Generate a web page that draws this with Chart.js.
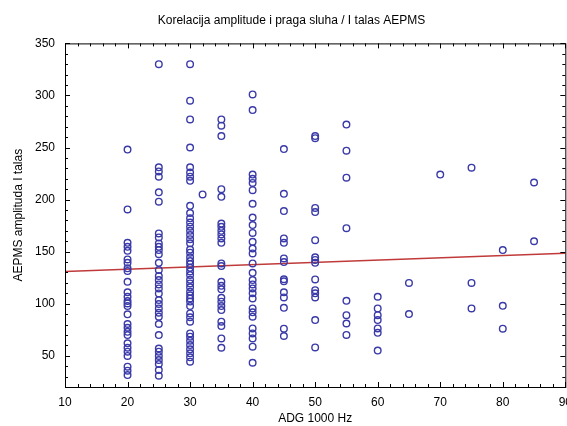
<!DOCTYPE html>
<html>
<head>
<meta charset="utf-8">
<script src="https://cdn.jsdelivr.net/npm/chart.js@4"></script>
<style>
  html, body { margin: 0; padding: 0; background: #fff; overflow: hidden; }
  #wrap { width: 572px; height: 426px; }
</style>
</head>
<body>
<div id="wrap"><canvas id="korelacija" width="572" height="426"></canvas></div>
<script>
// amplitude per ADG column
const amp20 = [248, 190.5, 158.5, 154.6, 150.8, 142.5, 139.3, 134, 131.3, 121, 110.9, 106.7, 102.5, 100.3, 97.7, 89.8, 80.5, 76.9, 73, 69.9, 61.9, 57.7, 53.9, 49.8, 39.5, 35.7, 31.5];
const amp25 = [330, 231, 227, 222, 207, 198, 167.5, 163.7, 157.9, 154.6, 151.5, 147.6, 139.3, 132.3, 126.5, 122.7, 118.5, 114.7, 109.9, 103.5, 99.7, 95.5, 91.3, 87.5, 80.5, 69.9, 57, 53.9, 49.8, 45.9, 42, 36.3, 30.8];
const amp30 = [330, 295, 277, 250, 231, 226, 222, 218, 194, 187, 182, 178, 174, 170, 166, 162, 158, 152, 149, 144.5, 141, 138, 134.5, 131, 127.5, 123, 119.5, 115.7, 111.5, 108, 105, 102, 97.7, 90.7, 87, 82.7, 71.5, 68.3, 64.4, 60.3, 56.2, 52.3, 48.5, 44.3];
const amp32 = [205];
const amp35 = [277, 271, 261, 210, 202.6, 177, 173.8, 170, 166.5, 162.7, 158.5, 138.7, 136.1, 121, 117.2, 113.8, 105.7, 101.9, 97.7, 93.9, 82.7, 78.5, 66.7, 57.7];
const amp40 = [301, 286, 224, 220, 216, 209, 196, 182.8, 175.5, 168, 159.4, 153, 148.3, 138.7, 129.7, 122.7, 118.5, 114.7, 110, 105, 95.5, 91.7, 87.5, 76.3, 71.5, 66.7, 58.7, 43.3];
const amp45 = [248.5, 205.5, 189, 162.7, 158.5, 143.5, 140, 123.5, 121.5, 111, 106, 96, 76, 69];
const amp50 = [261, 259, 192, 188, 161, 144.5, 142, 139.3, 123.3, 113, 110, 106, 84.3, 58];
const amp55 = [272, 247, 221, 172.5, 102.8, 89, 81, 70];
const amp60 = [106.7, 95.5, 89, 84.3, 76.3, 72, 55];
const amp65 = [120, 90];
const amp70 = [224];
const amp75 = [230.6, 120, 95.5];
const amp80 = [151.5, 98, 76];
const amp85 = [216.4, 160];

const adgColumns = [20, 25, 30, 32, 35, 40, 45, 50, 55, 60, 65, 70, 75, 80, 85];
const ampColumns = [amp20, amp25, amp30, amp32, amp35, amp40, amp45, amp50, amp55, amp60, amp65, amp70, amp75, amp80, amp85];

// regression line
const fitX = [10, 90];
const fitY = [131, 148.5];

const xTicks = [10, 20, 30, 40, 50, 60, 70, 80, 90];
const yTicks = [50, 100, 150, 200, 250, 300, 350];

const points = [];
adgColumns.forEach((x, i) => {
  ampColumns[i].forEach((y) => points.push({ x: x, y: y }));
});

// frame with inward ticks on all four sides
const frameTicks = {
  id: "frameTicks",
  afterDraw(chart) {
    const { ctx, chartArea: a, scales } = chart;
    ctx.save();
    ctx.strokeStyle = "#000";
    ctx.lineWidth = 1;
    ctx.strokeRect(a.left + 0.5, a.top + 0.5, a.right - a.left, a.bottom - a.top);
    ctx.beginPath();
    for (let v = 10; v <= 90; v += 2) {
      const px = Math.round(scales.x.getPixelForValue(v)) + 0.5;
      const len = v % 10 === 0 ? 5 : 3;
      ctx.moveTo(px, a.bottom); ctx.lineTo(px, a.bottom - len);
      ctx.moveTo(px, a.top); ctx.lineTo(px, a.top + len);
    }
    for (let v = 20; v <= 350; v += 10) {
      const py = Math.round(scales.y.getPixelForValue(v)) + 0.5;
      const len = v % 50 === 0 ? 5 : 3;
      ctx.moveTo(a.left, py); ctx.lineTo(a.left + len, py);
      ctx.moveTo(a.right, py); ctx.lineTo(a.right - len, py);
    }
    ctx.stroke();
    ctx.restore();
  },
};

const korelacija = document.getElementById("korelacija");

new Chart(korelacija, {
  type: "scatter",
  data: {
    datasets: [
      {
        label: "AEPMS",
        data: points,
        showLine: false,
        pointStyle: "circle",
        pointRadius: 3.3,
        borderWidth: 1.4,
        borderColor: "#3a3aa8",
        backgroundColor: "rgba(0,0,0,0)",
      },
      {
        label: "fit",
        type: "line",
        data: fitX.map((x, i) => ({ x: x, y: fitY[i] })),
        borderColor: "#c03a3a",
        borderWidth: 1.5,
        pointRadius: 0,
      },
    ],
  },
  options: {
    responsive: false,
    animation: false,
    layout: { padding: { top: 9, left: 11, right: 0, bottom: 0 } },
    plugins: {
      legend: { display: false },
      tooltip: { enabled: false },
      title: {
        display: true,
        text: "Korelacija amplitude i praga sluha / I talas AEPMS",
        color: "#000",
        font: { family: "Liberation Sans", size: 12, weight: "normal" },
        padding: { top: 4, bottom: 16 },
      },
    },
    scales: {
      x: {
        type: "linear",
        min: 10,
        max: 90,
        afterBuildTicks: (s) => { s.ticks = xTicks.map((v) => ({ value: v })); },
        afterFit: (s) => { s.height = 39; },
        ticks: { color: "#000", font: { family: "Liberation Sans", size: 12 }, padding: 0, maxRotation: 0, autoSkip: false },
        grid: { display: false },
        border: { display: false },
        title: {
          display: true,
          text: "ADG 1000 Hz",
          color: "#000",
          font: { family: "Liberation Sans", size: 12 },
          padding: { top: 2, bottom: 0 },
        },
      },
      y: {
        min: 20,
        max: 350,
        afterBuildTicks: (s) => { s.ticks = yTicks.map((v) => ({ value: v })); },
        afterFit: (s) => { s.width = 54; },
        ticks: { color: "#000", font: { family: "Liberation Sans", size: 12 }, padding: 2 },
        grid: { display: false },
        border: { display: false },
        title: {
          display: true,
          text: "AEPMS amplituda I talas",
          color: "#000",
          font: { family: "Liberation Sans", size: 12 },
          padding: { top: 0, bottom: 4 },
        },
      },
    },
  },
  plugins: [frameTicks],
});
</script>
</body>
</html>
